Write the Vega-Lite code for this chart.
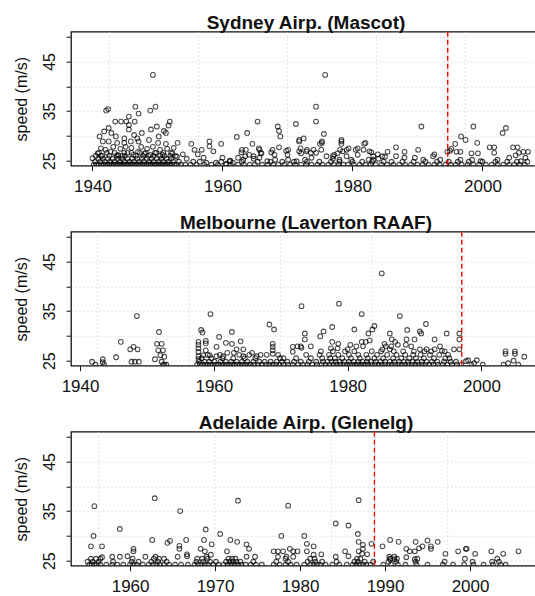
{
"$schema": "https://vega.github.io/schema/vega-lite/v6.json",
"background": "white",
"padding": {"left": 12, "top": 12.7, "right": 0, "bottom": 0},
"spacing": 17,
"config": {
  "font": "Liberation Sans",
  "view": {"stroke": "#111111", "strokeWidth": 1.3},
  "axis": {"labelColor": "#111111", "titleColor": "#111111", "tickColor": "#111111", "labelFont": "Liberation Sans", "titleFont": "Liberation Sans"},
  "title": {"fontSize": 19, "fontWeight": "bold", "color": "#111111", "anchor": "middle", "baseline": "alphabetic", "offset": -2}
},
"datasets": {
  "grid": [{"g":1942.62},{"g":1956.31},{"g":1970.0},{"g":1983.69},{"g":1997.38}],
  "chg": [{"p":"syd","x":1994.65},{"p":"mel","x":1997.05},{"p":"ade","x":1988.75}],
  "syd": [
{"x":1940.0,"y":25.5},{"x":1940.8,"y":26.5},{"x":1941.3,"y":27.5},{"x":1941.1,"y":29.9},{"x":1941.6,"y":28.9},{"x":1941.8,"y":30.9},{"x":1942.1,"y":35.1},{"x":1942.4,"y":35.4},{"x":1942.5,"y":31.6},{"x":1942.5,"y":28.9},{"x":1942.9,"y":30.6},{"x":1943.5,"y":32.9},{"x":1943.6,"y":29.9},{"x":1943.8,"y":28.6},{"x":1944.4,"y":32.9},{"x":1944.9,"y":29.5},{"x":1944.9,"y":28.6},{"x":1945.2,"y":32.9},{"x":1945.6,"y":32.2},{"x":1945.6,"y":31.3},{"x":1945.6,"y":33.9},{"x":1945.9,"y":28.9},{"x":1946.4,"y":30.2},{"x":1946.5,"y":32.9},{"x":1946.6,"y":35.9},{"x":1946.9,"y":29.5},{"x":1947.1,"y":34.5},{"x":1947.1,"y":28.9},{"x":1947.6,"y":30.6},{"x":1948.7,"y":29.2},{"x":1948.9,"y":35.1},{"x":1949.0,"y":31.3},{"x":1949.3,"y":42.3},{"x":1949.7,"y":35.9},{"x":1949.9,"y":31.9},{"x":1950.1,"y":28.6},{"x":1950.2,"y":29.9},{"x":1951.0,"y":31.0},{"x":1951.3,"y":30.6},{"x":1951.3,"y":28.4},{"x":1951.7,"y":32.1},{"x":1951.9,"y":32.9},{"x":1952.3,"y":26.5},{"x":1953.1,"y":28.6},{"x":1953.9,"y":26.3},
{"x":1941.3,"y":26.0},{"x":1942.0,"y":27.2},{"x":1942.8,"y":26.8},{"x":1943.2,"y":27.8},{"x":1943.9,"y":26.2},{"x":1944.3,"y":27.4},{"x":1944.6,"y":26.0},{"x":1945.1,"y":27.8},{"x":1945.4,"y":26.6},{"x":1946.0,"y":27.6},{"x":1946.3,"y":26.2},{"x":1947.0,"y":26.8},{"x":1947.5,"y":27.8},{"x":1948.0,"y":26.4},{"x":1948.4,"y":27.4},{"x":1948.9,"y":26.2},{"x":1949.3,"y":27.8},{"x":1949.8,"y":26.6},{"x":1950.4,"y":27.2},{"x":1950.8,"y":26.2},{"x":1951.5,"y":27.4},{"x":1952.0,"y":26.0},{"x":1952.5,"y":27.6},{"x":1953.0,"y":25.8},
{"x":1955.2,"y":28.4},{"x":1955.7,"y":27.2},{"x":1956.8,"y":27.2},{"x":1956.2,"y":26.3},{"x":1958.0,"y":28.9},{"x":1958.0,"y":27.9},{"x":1958.6,"y":26.9},{"x":1959.8,"y":28.4},{"x":1957.1,"y":25.6},{"x":1960.0,"y":25.6},{"x":1961.2,"y":25.0},{"x":1954.5,"y":25.4},{"x":1955.5,"y":24.8},{"x":1957.5,"y":24.6},{"x":1959.0,"y":24.6},{"x":1960.6,"y":24.4},{"x":1961.6,"y":24.6},
{"x":1962.2,"y":29.8},{"x":1963.8,"y":30.6},{"x":1965.4,"y":32.9},{"x":1964.6,"y":28.4},{"x":1963.0,"y":27.2},{"x":1963.5,"y":25.9},{"x":1964.8,"y":25.9},{"x":1965.6,"y":27.5},{"x":1965.9,"y":26.6},{"x":1967.7,"y":27.2},{"x":1968.5,"y":31.9},{"x":1968.7,"y":31.0},{"x":1968.9,"y":29.9},{"x":1968.7,"y":27.7},{"x":1970.1,"y":27.2},{"x":1971.3,"y":32.4},{"x":1971.8,"y":29.2},{"x":1971.8,"y":28.9},{"x":1972.5,"y":29.5},{"x":1972.0,"y":27.5},{"x":1973.0,"y":27.2},{"x":1974.4,"y":35.9},{"x":1974.4,"y":32.9},{"x":1975.6,"y":30.4},{"x":1975.3,"y":28.9},{"x":1975.0,"y":28.4},{"x":1975.3,"y":28.6},{"x":1974.0,"y":27.2},{"x":1975.8,"y":42.3},{"x":1976.0,"y":25.9},{"x":1977.0,"y":25.9},{"x":1978.3,"y":29.2},{"x":1978.3,"y":28.9},{"x":1978.3,"y":28.4},{"x":1978.1,"y":27.2},{"x":1979.4,"y":27.5},
{"x":1962.9,"y":26.7},{"x":1963.6,"y":27.2},{"x":1964.1,"y":26.2},{"x":1965.7,"y":27.2},{"x":1966.0,"y":26.5},{"x":1967.5,"y":26.7},{"x":1968.0,"y":26.2},{"x":1969.8,"y":27.0},{"x":1970.0,"y":26.2},{"x":1971.8,"y":26.9},{"x":1972.1,"y":26.5},{"x":1972.9,"y":26.9},{"x":1973.6,"y":26.6},{"x":1974.4,"y":26.6},{"x":1975.2,"y":27.2},{"x":1977.2,"y":26.2},{"x":1977.7,"y":26.5},{"x":1978.5,"y":26.9},{"x":1979.1,"y":27.2},{"x":1980.5,"y":27.2},{"x":1981.8,"y":28.4},{"x":1981.7,"y":27.2},{"x":1982.9,"y":26.7},{"x":1983.2,"y":25.9},{"x":1980.8,"y":26.2},{"x":1979.8,"y":25.2},
{"x":1961.1,"y":24.9},{"x":1962.4,"y":25.6},{"x":1963.2,"y":25.2},{"x":1964.8,"y":25.4},{"x":1965.7,"y":25.6},{"x":1966.9,"y":24.9},{"x":1968.1,"y":25.2},{"x":1970.1,"y":25.2},{"x":1971.4,"y":24.9},{"x":1972.7,"y":25.2},{"x":1973.7,"y":25.6},{"x":1977.0,"y":25.4},{"x":1978.0,"y":25.2},{"x":1979.1,"y":25.9},{"x":1982.5,"y":25.2},{"x":1983.2,"y":25.2},
{"x":1990.6,"y":31.9},{"x":1998.6,"y":31.9},{"x":2003.1,"y":30.6},{"x":2003.6,"y":31.6},{"x":1996.7,"y":29.9},{"x":1997.4,"y":29.2},{"x":1995.8,"y":28.4},{"x":1995.2,"y":27.4},{"x":1999.2,"y":28.6},{"x":1990.1,"y":27.2},{"x":1986.7,"y":27.7},{"x":1985.4,"y":26.8},{"x":1988.0,"y":26.8},{"x":1992.6,"y":26.3},{"x":1994.6,"y":26.8},{"x":1995.0,"y":27.0},{"x":1996.0,"y":26.8},{"x":1996.6,"y":26.8},{"x":1998.3,"y":26.5},{"x":1999.3,"y":26.5},{"x":2001.1,"y":27.7},{"x":2001.8,"y":27.7},{"x":2001.8,"y":26.6},{"x":2004.7,"y":27.7},{"x":2005.4,"y":27.7},{"x":2005.1,"y":26.1},{"x":2005.6,"y":26.6},{"x":2006.3,"y":26.8},{"x":2007.0,"y":26.8},{"x":2006.6,"y":25.6},
{"x":1984.6,"y":25.9},{"x":1986.7,"y":25.9},{"x":1988.0,"y":25.6},{"x":1989.6,"y":25.6},{"x":1990.9,"y":25.2},{"x":1992.4,"y":25.9},{"x":1993.5,"y":25.2},{"x":1996.6,"y":25.2},{"x":1998.4,"y":25.2},{"x":1999.7,"y":24.9},{"x":2002.3,"y":25.2},{"x":2004.1,"y":25.6},{"x":2005.9,"y":24.9},{"x":1982.0,"y":28.6},{"x":1982.6,"y":26.9},{"x":1983.9,"y":26.3},{"x":1980.8,"y":27.5},{"x":1984.0,"y":25.4},{"x":1985.0,"y":25.8},
{"x":1940.2,"y":24.2},{"x":1940.6,"y":24.2},{"x":1941.0,"y":24.2},{"x":1941.4,"y":24.2},{"x":1941.7,"y":24.2},{"x":1942.0,"y":24.2},{"x":1942.3,"y":24.2},{"x":1942.6,"y":24.2},{"x":1942.9,"y":24.2},{"x":1943.2,"y":24.2},{"x":1943.5,"y":24.2},{"x":1943.8,"y":24.2},{"x":1944.1,"y":24.2},{"x":1944.4,"y":24.2},{"x":1944.7,"y":24.2},{"x":1945.0,"y":24.2},{"x":1945.3,"y":24.2},{"x":1945.6,"y":24.2},{"x":1945.9,"y":24.2},{"x":1946.2,"y":24.2},{"x":1946.5,"y":24.2},{"x":1946.8,"y":24.2},{"x":1947.1,"y":24.2},{"x":1947.4,"y":24.2},{"x":1947.7,"y":24.2},{"x":1948.0,"y":24.2},{"x":1948.3,"y":24.2},{"x":1948.6,"y":24.2},{"x":1948.9,"y":24.2},{"x":1949.2,"y":24.2},{"x":1949.5,"y":24.2},{"x":1949.8,"y":24.2},{"x":1950.1,"y":24.2},{"x":1950.4,"y":24.2},{"x":1950.7,"y":24.2},{"x":1951.0,"y":24.2},{"x":1951.3,"y":24.2},{"x":1951.6,"y":24.2},{"x":1951.9,"y":24.2},{"x":1952.2,"y":24.2},{"x":1952.6,"y":24.2},{"x":1953.0,"y":24.2},{"x":1953.6,"y":24.2},{"x":1954.3,"y":24.2},{"x":1955.1,"y":24.2},{"x":1956.0,"y":24.2},{"x":1957.2,"y":24.2},{"x":1958.3,"y":24.2},{"x":1959.3,"y":24.2},{"x":1960.5,"y":24.2},{"x":1961.3,"y":24.2},{"x":1962.4,"y":24.2},{"x":1963.3,"y":24.2},{"x":1964.2,"y":24.2},{"x":1965.0,"y":24.2},{"x":1966.1,"y":24.2},{"x":1967.0,"y":24.2},{"x":1967.8,"y":24.2},{"x":1968.6,"y":24.2},{"x":1969.5,"y":24.2},{"x":1970.4,"y":24.2},{"x":1971.2,"y":24.2},{"x":1972.1,"y":24.2},{"x":1972.9,"y":24.2},{"x":1973.7,"y":24.2},{"x":1974.6,"y":24.2},{"x":1975.4,"y":24.2},{"x":1976.3,"y":24.2},{"x":1977.1,"y":24.2},{"x":1977.9,"y":24.2},{"x":1978.6,"y":24.2},{"x":1979.3,"y":24.2},{"x":1980.2,"y":24.2},{"x":1981.1,"y":24.2},{"x":1982.0,"y":24.2},{"x":1982.8,"y":24.2},{"x":1983.6,"y":24.2},{"x":1984.5,"y":24.2},{"x":1985.3,"y":24.2},{"x":1986.3,"y":24.2},{"x":1987.2,"y":24.2},{"x":1988.1,"y":24.2},{"x":1989.0,"y":24.2},{"x":1990.0,"y":24.2},{"x":1990.8,"y":24.2},{"x":1991.7,"y":24.2},{"x":1992.6,"y":24.2},{"x":1993.4,"y":24.2},{"x":1994.3,"y":24.2},{"x":1995.1,"y":24.2},{"x":1995.9,"y":24.2},{"x":1996.8,"y":24.2},{"x":1997.7,"y":24.2},{"x":1998.6,"y":24.2},{"x":1999.5,"y":24.2},{"x":2000.5,"y":24.2},{"x":2001.4,"y":24.2},{"x":2002.3,"y":24.2},{"x":2003.2,"y":24.2},{"x":2004.1,"y":24.2},{"x":2004.9,"y":24.2},{"x":2005.7,"y":24.2},{"x":2006.5,"y":24.2},
{"x":1940.4,"y":24.8},{"x":1941.2,"y":24.8},{"x":1941.9,"y":24.8},{"x":1942.7,"y":24.8},{"x":1943.4,"y":24.8},{"x":1944.2,"y":24.8},{"x":1944.9,"y":24.8},{"x":1945.7,"y":24.8},{"x":1946.4,"y":24.8},{"x":1947.2,"y":24.8},{"x":1947.9,"y":24.8},{"x":1948.7,"y":24.8},{"x":1949.4,"y":24.8},{"x":1950.2,"y":24.8},{"x":1950.9,"y":24.8},{"x":1951.7,"y":24.8},{"x":1952.4,"y":24.8},{"x":1953.3,"y":24.8},{"x":1956.5,"y":24.8},{"x":1959.8,"y":24.8},{"x":1963.0,"y":24.8},{"x":1965.4,"y":24.8},{"x":1967.4,"y":24.8},{"x":1969.2,"y":24.8},{"x":1971.0,"y":24.8},{"x":1973.0,"y":24.8},{"x":1974.9,"y":24.8},{"x":1976.7,"y":24.8},{"x":1978.0,"y":24.8},{"x":1980.0,"y":24.8},{"x":1981.5,"y":24.8},{"x":1983.0,"y":24.8},{"x":1984.8,"y":24.8},{"x":1986.0,"y":24.8},{"x":1987.7,"y":24.8},{"x":1989.4,"y":24.8},{"x":1991.2,"y":24.8},{"x":1993.0,"y":24.8},{"x":1994.8,"y":24.8},{"x":1996.2,"y":24.8},{"x":1997.9,"y":24.8},{"x":2000.0,"y":24.8},{"x":2002.0,"y":24.8},{"x":2003.8,"y":24.8},{"x":2005.3,"y":24.8},{"x":2006.9,"y":24.8},
{"x":1940.9,"y":25.4},{"x":1941.6,"y":25.4},{"x":1942.4,"y":25.4},{"x":1943.1,"y":25.4},{"x":1943.9,"y":25.4},{"x":1944.6,"y":25.4},{"x":1945.4,"y":25.4},{"x":1946.1,"y":25.4},{"x":1946.9,"y":25.4},{"x":1947.6,"y":25.4},{"x":1948.4,"y":25.4},{"x":1949.1,"y":25.4},{"x":1949.9,"y":25.4},{"x":1950.6,"y":25.4},{"x":1951.4,"y":25.4},{"x":1952.1,"y":25.4},
{"x":1940.5,"y":26.0},{"x":1941.5,"y":26.0},{"x":1942.6,"y":26.0},{"x":1943.7,"y":26.0},{"x":1944.0,"y":26.0},{"x":1945.0,"y":26.0},{"x":1946.7,"y":26.0},{"x":1947.8,"y":26.0},{"x":1948.6,"y":26.0},{"x":1949.4,"y":26.0},{"x":1950.4,"y":26.0},{"x":1951.1,"y":26.0},{"x":1952.8,"y":26.0},
{"x":1941.0,"y":26.6},{"x":1942.2,"y":26.6},{"x":1943.4,"y":26.6},{"x":1944.9,"y":26.6},{"x":1946.0,"y":26.6},{"x":1947.3,"y":26.6},{"x":1948.2,"y":26.6},{"x":1949.6,"y":26.6},{"x":1950.9,"y":26.6},{"x":1952.1,"y":26.6}
  ],
  "mel": [
{"x":1941.8,"y":24.8},{"x":1943.4,"y":25.3},{"x":1943.4,"y":24.7},{"x":1945.4,"y":25.7},{"x":1946.1,"y":28.8},{"x":1947.5,"y":27.3},{"x":1948.0,"y":27.8},{"x":1948.6,"y":27.3},{"x":1948.5,"y":34.0},{"x":1947.7,"y":24.8},{"x":1948.2,"y":24.8},{"x":1948.8,"y":24.8},{"x":1951.8,"y":30.8},{"x":1951.5,"y":28.4},{"x":1952.2,"y":28.4},{"x":1951.7,"y":27.1},{"x":1952.4,"y":27.1},{"x":1952.0,"y":26.1},{"x":1952.6,"y":25.8},{"x":1951.2,"y":25.3},{"x":1952.2,"y":24.8},{"x":1952.6,"y":24.2},
{"x":1958.1,"y":31.2},{"x":1958.3,"y":30.7},{"x":1959.5,"y":34.4},{"x":1960.8,"y":29.8},{"x":1962.7,"y":30.8},{"x":1957.7,"y":28.8},{"x":1957.7,"y":28.2},{"x":1957.7,"y":27.5},{"x":1957.7,"y":26.8},{"x":1957.7,"y":25.9},{"x":1957.7,"y":25.3},{"x":1958.8,"y":29.0},{"x":1958.8,"y":28.5},{"x":1958.8,"y":27.1},{"x":1958.4,"y":26.1},{"x":1959.4,"y":26.1},{"x":1960.4,"y":27.8},{"x":1961.8,"y":28.6},{"x":1962.7,"y":28.4},{"x":1962.0,"y":26.6},{"x":1963.0,"y":26.6},{"x":1964.0,"y":28.9},{"x":1963.4,"y":27.3},{"x":1964.4,"y":27.3},{"x":1965.7,"y":26.6},{"x":1964.4,"y":25.9},{"x":1966.4,"y":25.9},{"x":1960.4,"y":25.9},{"x":1961.4,"y":25.9},{"x":1968.3,"y":32.3},{"x":1969.0,"y":31.3},{"x":1968.8,"y":28.4},{"x":1968.8,"y":27.8},{"x":1968.8,"y":27.1},{"x":1968.8,"y":26.4},{"x":1967.9,"y":26.2},{"x":1970.4,"y":25.5},{"x":1971.8,"y":27.8},{"x":1972.5,"y":27.9},{"x":1971.8,"y":26.8},
{"x":1973.1,"y":36.0},{"x":1985.1,"y":42.6},{"x":1978.7,"y":36.5},{"x":1982.1,"y":34.4},{"x":1987.8,"y":34.0},{"x":1981.0,"y":31.3},{"x":1984.0,"y":32.0},{"x":1983.7,"y":31.3},{"x":1977.7,"y":31.8},{"x":1976.4,"y":30.9},{"x":1975.9,"y":29.9},{"x":1973.6,"y":30.5},{"x":1973.6,"y":29.3},{"x":1991.7,"y":32.4},{"x":1990.8,"y":30.9},{"x":1991.0,"y":30.5},{"x":1988.9,"y":31.2},{"x":1986.3,"y":30.5},{"x":1994.8,"y":30.5},{"x":1996.7,"y":30.5},{"x":1996.7,"y":29.3},{"x":1995.9,"y":27.3},{"x":1996.7,"y":27.3},{"x":1993.0,"y":29.3},{"x":1993.8,"y":27.9},{"x":1974.5,"y":27.9},{"x":1973.0,"y":27.9},{"x":1973.1,"y":27.6},{"x":1983.1,"y":30.5},{"x":1983.3,"y":29.1},{"x":1982.7,"y":28.8},{"x":1986.6,"y":29.3},{"x":1987.1,"y":28.8},{"x":1986.5,"y":27.9},{"x":1987.5,"y":28.2},{"x":1988.8,"y":29.3},{"x":1988.7,"y":28.2},{"x":1989.5,"y":27.9},{"x":1990.0,"y":29.3},{"x":1981.3,"y":27.9},{"x":1982.3,"y":27.9},{"x":1982.1,"y":28.8},
{"x":1980.4,"y":28.2},{"x":1978.6,"y":28.4},{"x":1977.7,"y":28.8},{"x":1977.5,"y":27.5},{"x":1978.5,"y":27.5},{"x":1980.0,"y":27.3},{"x":1985.5,"y":28.4},{"x":1985.7,"y":27.9},{"x":1986.3,"y":27.3},{"x":1985.2,"y":27.3},{"x":1990.8,"y":27.3},{"x":1991.8,"y":27.3},{"x":1993.0,"y":27.3},{"x":1994.1,"y":27.0},
{"x":1998.0,"y":25.1},{"x":1999.3,"y":25.1},{"x":1997.7,"y":24.9},{"x":1998.9,"y":24.5},{"x":2003.6,"y":26.9},{"x":2003.6,"y":26.4},{"x":2005.0,"y":26.9},{"x":2005.0,"y":26.4},{"x":2006.4,"y":25.8},{"x":2004.8,"y":25.0},{"x":2004.0,"y":24.5},
{"x":1942.3,"y":24.2},{"x":1943.6,"y":24.2},{"x":1952.4,"y":24.2},{"x":1952.9,"y":24.2},{"x":1957.5,"y":24.2},{"x":1957.9,"y":24.2},{"x":1958.3,"y":24.2},{"x":1958.7,"y":24.2},{"x":1959.1,"y":24.2},{"x":1959.5,"y":24.2},{"x":1959.9,"y":24.2},{"x":1960.3,"y":24.2},{"x":1960.7,"y":24.2},{"x":1961.1,"y":24.2},{"x":1961.5,"y":24.2},{"x":1961.9,"y":24.2},{"x":1962.3,"y":24.2},{"x":1962.7,"y":24.2},{"x":1963.1,"y":24.2},{"x":1963.5,"y":24.2},{"x":1963.9,"y":24.2},{"x":1964.3,"y":24.2},{"x":1964.7,"y":24.2},{"x":1965.1,"y":24.2},{"x":1965.5,"y":24.2},{"x":1966.0,"y":24.2},{"x":1966.6,"y":24.2},{"x":1967.2,"y":24.2},{"x":1967.8,"y":24.2},{"x":1968.3,"y":24.2},{"x":1968.8,"y":24.2},{"x":1969.3,"y":24.2},{"x":1969.8,"y":24.2},{"x":1970.4,"y":24.2},{"x":1971.1,"y":24.2},{"x":1971.8,"y":24.2},{"x":1972.6,"y":24.2},{"x":1973.3,"y":24.2},{"x":1974.0,"y":24.2},{"x":1974.7,"y":24.2},{"x":1975.4,"y":24.2},{"x":1976.1,"y":24.2},{"x":1976.7,"y":24.2},{"x":1977.3,"y":24.2},{"x":1977.9,"y":24.2},{"x":1978.4,"y":24.2},{"x":1978.9,"y":24.2},{"x":1979.4,"y":24.2},{"x":1979.9,"y":24.2},{"x":1980.3,"y":24.2},{"x":1980.7,"y":24.2},{"x":1981.1,"y":24.2},{"x":1981.5,"y":24.2},{"x":1981.9,"y":24.2},{"x":1982.3,"y":24.2},{"x":1982.7,"y":24.2},{"x":1983.1,"y":24.2},{"x":1983.6,"y":24.2},{"x":1984.1,"y":24.2},{"x":1984.6,"y":24.2},{"x":1985.1,"y":24.2},{"x":1985.6,"y":24.2},{"x":1986.1,"y":24.2},{"x":1986.6,"y":24.2},{"x":1987.1,"y":24.2},{"x":1987.6,"y":24.2},{"x":1988.1,"y":24.2},{"x":1988.6,"y":24.2},{"x":1989.1,"y":24.2},{"x":1989.6,"y":24.2},{"x":1990.1,"y":24.2},{"x":1990.6,"y":24.2},{"x":1991.1,"y":24.2},{"x":1991.6,"y":24.2},{"x":1992.2,"y":24.2},{"x":1992.8,"y":24.2},{"x":1993.5,"y":24.2},{"x":1994.2,"y":24.2},{"x":1994.9,"y":24.2},{"x":1995.6,"y":24.2},{"x":1996.3,"y":24.2},{"x":1997.0,"y":24.2},{"x":1998.5,"y":24.2},{"x":2000.2,"y":24.2},{"x":2003.3,"y":24.2},{"x":2005.5,"y":24.2},
{"x":1957.8,"y":24.8},{"x":1958.6,"y":24.8},{"x":1959.3,"y":24.8},{"x":1960.1,"y":24.8},{"x":1961.0,"y":24.8},{"x":1961.8,"y":24.8},{"x":1962.6,"y":24.8},{"x":1963.4,"y":24.8},{"x":1964.2,"y":24.8},{"x":1965.0,"y":24.8},{"x":1965.9,"y":24.8},{"x":1966.8,"y":24.8},{"x":1967.6,"y":24.8},{"x":1968.5,"y":24.8},{"x":1969.4,"y":24.8},{"x":1970.2,"y":24.8},{"x":1971.0,"y":24.8},{"x":1972.0,"y":24.8},{"x":1973.0,"y":24.8},{"x":1974.2,"y":24.8},{"x":1975.3,"y":24.8},{"x":1976.3,"y":24.8},{"x":1977.0,"y":24.8},{"x":1977.6,"y":24.8},{"x":1978.2,"y":24.8},{"x":1978.8,"y":24.8},{"x":1979.5,"y":24.8},{"x":1980.2,"y":24.8},{"x":1980.9,"y":24.8},{"x":1981.6,"y":24.8},{"x":1982.2,"y":24.8},{"x":1982.9,"y":24.8},{"x":1983.5,"y":24.8},{"x":1984.2,"y":24.8},{"x":1984.9,"y":24.8},{"x":1985.6,"y":24.8},{"x":1986.3,"y":24.8},{"x":1987.0,"y":24.8},{"x":1987.7,"y":24.8},{"x":1988.4,"y":24.8},{"x":1989.0,"y":24.8},{"x":1989.7,"y":24.8},{"x":1990.4,"y":24.8},{"x":1991.1,"y":24.8},{"x":1991.8,"y":24.8},{"x":1992.6,"y":24.8},{"x":1993.4,"y":24.8},{"x":1994.4,"y":24.8},{"x":1995.4,"y":24.8},{"x":1996.2,"y":24.8},
{"x":1958.2,"y":25.5},{"x":1959.6,"y":25.5},{"x":1961.3,"y":25.5},{"x":1962.9,"y":25.5},{"x":1964.6,"y":25.5},{"x":1966.2,"y":25.5},{"x":1969.9,"y":25.5},{"x":1972.3,"y":25.5},{"x":1974.5,"y":25.5},{"x":1976.2,"y":25.5},{"x":1977.4,"y":25.5},{"x":1978.1,"y":25.5},{"x":1979.2,"y":25.5},{"x":1980.5,"y":25.5},{"x":1981.8,"y":25.5},{"x":1983.0,"y":25.5},{"x":1984.0,"y":25.5},{"x":1985.3,"y":25.5},{"x":1986.8,"y":25.5},{"x":1988.0,"y":25.5},{"x":1989.2,"y":25.5},{"x":1990.2,"y":25.5},{"x":1991.4,"y":25.5},{"x":1992.9,"y":25.5},{"x":1994.6,"y":25.5},{"x":1995.2,"y":25.5},
{"x":1959.1,"y":26.2},{"x":1960.9,"y":26.2},{"x":1963.8,"y":26.2},{"x":1965.3,"y":26.2},{"x":1967.0,"y":26.2},{"x":1969.6,"y":26.2},{"x":1973.8,"y":26.2},{"x":1975.8,"y":26.2},{"x":1977.2,"y":26.2},{"x":1978.6,"y":26.2},{"x":1980.2,"y":26.2},{"x":1981.6,"y":26.2},{"x":1982.8,"y":26.2},{"x":1984.4,"y":26.2},{"x":1985.9,"y":26.2},{"x":1987.3,"y":26.2},{"x":1988.6,"y":26.2},{"x":1989.8,"y":26.2},{"x":1990.9,"y":26.2},{"x":1992.3,"y":26.2},{"x":1993.7,"y":26.2},{"x":1995.0,"y":26.2},
{"x":1976.0,"y":26.9},{"x":1977.8,"y":26.9},{"x":1979.6,"y":26.9},{"x":1981.0,"y":26.9},{"x":1983.6,"y":26.9},{"x":1985.0,"y":26.9},{"x":1986.9,"y":26.9},{"x":1988.3,"y":26.9},{"x":1989.9,"y":26.9},{"x":1991.5,"y":26.9},{"x":1992.5,"y":26.9},{"x":1994.5,"y":26.9}
  ],
  "ade": [
{"x":1955.8,"y":36.0},{"x":1955.7,"y":30.0},{"x":1955.4,"y":27.9},{"x":1956.7,"y":27.9},{"x":1962.9,"y":37.6},{"x":1958.8,"y":31.4},{"x":1965.9,"y":35.0},{"x":1972.7,"y":37.1},{"x":1978.6,"y":36.1},{"x":1977.8,"y":30.0},{"x":1968.9,"y":31.3},{"x":1968.7,"y":29.2},{"x":1968.3,"y":27.4},{"x":1968.8,"y":26.9},{"x":1970.6,"y":30.4},{"x":1969.6,"y":28.3},{"x":1971.8,"y":29.2},{"x":1972.6,"y":28.8},{"x":1971.4,"y":26.9},{"x":1973.7,"y":28.3},{"x":1974.0,"y":27.4},{"x":1974.7,"y":25.8},{"x":1973.7,"y":25.8},{"x":1962.6,"y":29.2},{"x":1960.4,"y":27.4},{"x":1960.4,"y":26.9},{"x":1959.7,"y":25.9},{"x":1958.8,"y":25.8},{"x":1957.9,"y":25.8},{"x":1956.7,"y":25.7},{"x":1964.4,"y":28.6},{"x":1964.7,"y":29.0},{"x":1965.8,"y":28.0},{"x":1965.8,"y":27.4},{"x":1966.6,"y":29.2},{"x":1966.7,"y":26.3},{"x":1966.7,"y":25.9},{"x":1965.6,"y":25.8},{"x":1961.8,"y":25.8},{"x":1963.0,"y":25.8},{"x":1976.9,"y":26.9},{"x":1977.4,"y":26.9},{"x":1978.0,"y":26.9},{"x":1978.8,"y":27.4},{"x":1979.7,"y":26.9},{"x":1977.4,"y":25.8},{"x":1978.4,"y":25.8},{"x":1969.0,"y":25.8},{"x":1969.5,"y":26.2},
{"x":1986.9,"y":37.2},{"x":1984.2,"y":32.5},{"x":1985.7,"y":32.1},{"x":1980.5,"y":30.0},{"x":1986.8,"y":30.4},{"x":1986.9,"y":28.8},{"x":1987.4,"y":28.2},{"x":1987.4,"y":27.4},{"x":1988.4,"y":28.4},{"x":1986.9,"y":26.9},{"x":1987.3,"y":26.4},{"x":1987.9,"y":26.3},{"x":1980.8,"y":28.4},{"x":1981.6,"y":27.9},{"x":1980.8,"y":26.9},{"x":1981.6,"y":26.2},{"x":1982.5,"y":26.3},{"x":1979.2,"y":26.9},{"x":1979.2,"y":25.8},{"x":1985.3,"y":26.9},{"x":1985.7,"y":25.9},{"x":1984.2,"y":25.8},{"x":1989.7,"y":27.9},{"x":1990.6,"y":29.2},{"x":1991.6,"y":28.8},{"x":1992.5,"y":27.4},{"x":1992.9,"y":26.9},{"x":1993.5,"y":26.9},{"x":1993.6,"y":28.8},{"x":1994.0,"y":27.5},{"x":1994.4,"y":27.9},{"x":1995.0,"y":29.1},{"x":1995.4,"y":27.9},{"x":1995.4,"y":27.4},{"x":1996.2,"y":28.8},{"x":1997.1,"y":26.4},{"x":1998.6,"y":26.9},{"x":1999.6,"y":27.4},{"x":1999.5,"y":27.4},{"x":2000.6,"y":26.4},{"x":2002.5,"y":26.9},{"x":2003.9,"y":26.4},{"x":2005.7,"y":26.9},{"x":1990.5,"y":25.8},{"x":1991.1,"y":25.8},{"x":1990.6,"y":25.3},{"x":1991.1,"y":25.3},{"x":1992.5,"y":25.7},{"x":1993.5,"y":25.3},
{"x":1955.2,"y":24.2},{"x":1955.5,"y":24.2},{"x":1955.8,"y":24.2},{"x":1956.1,"y":24.2},{"x":1956.5,"y":24.2},{"x":1957.2,"y":24.2},{"x":1957.9,"y":24.2},{"x":1958.5,"y":24.2},{"x":1959.2,"y":24.2},{"x":1960.0,"y":24.2},{"x":1960.4,"y":24.2},{"x":1960.8,"y":24.2},{"x":1961.5,"y":24.2},{"x":1962.2,"y":24.2},{"x":1962.7,"y":24.2},{"x":1963.1,"y":24.2},{"x":1963.5,"y":24.2},{"x":1964.0,"y":24.2},{"x":1964.6,"y":24.2},{"x":1965.3,"y":24.2},{"x":1966.0,"y":24.2},{"x":1966.8,"y":24.2},{"x":1967.6,"y":24.2},{"x":1968.0,"y":24.2},{"x":1968.4,"y":24.2},{"x":1968.8,"y":24.2},{"x":1969.2,"y":24.2},{"x":1969.8,"y":24.2},{"x":1970.4,"y":24.2},{"x":1971.0,"y":24.2},{"x":1971.5,"y":24.2},{"x":1971.9,"y":24.2},{"x":1972.3,"y":24.2},{"x":1972.7,"y":24.2},{"x":1973.1,"y":24.2},{"x":1973.6,"y":24.2},{"x":1974.2,"y":24.2},{"x":1974.8,"y":24.2},{"x":1975.5,"y":24.2},{"x":1976.9,"y":24.2},{"x":1977.6,"y":24.2},{"x":1978.3,"y":24.2},{"x":1978.9,"y":24.2},{"x":1979.6,"y":24.2},{"x":1980.5,"y":24.2},{"x":1981.2,"y":24.2},{"x":1981.6,"y":24.2},{"x":1982.0,"y":24.2},{"x":1982.4,"y":24.2},{"x":1983.0,"y":24.2},{"x":1983.8,"y":24.2},{"x":1984.6,"y":24.2},{"x":1985.5,"y":24.2},{"x":1986.2,"y":24.2},{"x":1986.6,"y":24.2},{"x":1987.0,"y":24.2},{"x":1987.4,"y":24.2},{"x":1987.8,"y":24.2},{"x":1988.3,"y":24.2},{"x":1989.8,"y":24.2},{"x":1990.7,"y":24.2},{"x":1991.5,"y":24.2},{"x":1992.4,"y":24.2},{"x":1993.7,"y":24.2},{"x":1995.0,"y":24.2},{"x":1996.8,"y":24.2},{"x":1998.0,"y":24.2},{"x":1999.3,"y":24.2},{"x":2000.4,"y":24.2},{"x":2001.6,"y":24.2},{"x":2002.7,"y":24.2},{"x":2003.6,"y":24.2},{"x":2004.2,"y":24.2},
{"x":1955.0,"y":24.8},{"x":1955.6,"y":24.8},{"x":1956.3,"y":24.8},{"x":1958.0,"y":24.8},{"x":1960.2,"y":24.8},{"x":1961.0,"y":24.8},{"x":1962.5,"y":24.8},{"x":1963.3,"y":24.8},{"x":1964.3,"y":24.8},{"x":1967.8,"y":24.8},{"x":1968.6,"y":24.8},{"x":1969.4,"y":24.8},{"x":1970.1,"y":24.8},{"x":1971.3,"y":24.8},{"x":1971.7,"y":24.8},{"x":1972.1,"y":24.8},{"x":1972.5,"y":24.8},{"x":1973.0,"y":24.8},{"x":1974.5,"y":24.8},{"x":1977.2,"y":24.8},{"x":1978.6,"y":24.8},{"x":1980.9,"y":24.8},{"x":1981.8,"y":24.8},{"x":1982.6,"y":24.8},{"x":1984.3,"y":24.8},{"x":1986.4,"y":24.8},{"x":1986.8,"y":24.8},{"x":1987.6,"y":24.8},{"x":1988.6,"y":24.8},{"x":1990.4,"y":24.8},{"x":1991.3,"y":24.8},{"x":1993.6,"y":24.8},{"x":1997.0,"y":24.8},{"x":2000.3,"y":24.8},{"x":2002.6,"y":24.8},{"x":2003.4,"y":24.8},
{"x":1955.4,"y":25.4},{"x":1956.0,"y":25.4},{"x":1956.5,"y":25.4},{"x":1960.3,"y":25.4},{"x":1962.8,"y":25.4},{"x":1963.4,"y":25.4},{"x":1964.0,"y":25.4},{"x":1967.9,"y":25.4},{"x":1968.5,"y":25.4},{"x":1969.1,"y":25.4},{"x":1971.6,"y":25.4},{"x":1972.0,"y":25.4},{"x":1972.4,"y":25.4},{"x":1978.3,"y":25.4},{"x":1981.2,"y":25.4},{"x":1981.7,"y":25.4},{"x":1986.7,"y":25.4},{"x":1987.1,"y":25.4},{"x":1990.6,"y":25.4},{"x":1991.4,"y":25.4},{"x":1993.8,"y":25.4},{"x":1999.4,"y":25.4},{"x":2003.2,"y":25.4}
  ]
},
"vconcat": [
 {
  "width": 470, "height": 134,
  "title": {"text": "Sydney Airp. (Mascot)"},
  "layer": [
   {"data": {"name": "grid"}, "mark": {"type": "rule", "color": "#c8c8c8", "strokeDash": [1, 3], "strokeWidth": 1, "clip": true},
    "encoding": {"x": {"field": "g", "type": "quantitative", "scale": {"domain": [1936.7, 2009.0], "nice": false, "zero": false},
      "axis": {"title": null, "values": [1940, 1960, 1980, 2000], "format": "d", "grid": false, "domain": false, "tickSize": 5, "labelFontSize": 17, "labelPadding": 8}}}},
   {"data": {"name": "syd"}, "mark": {"type": "point", "shape": "circle", "filled": false, "color": "black", "size": 22, "strokeWidth": 1.1, "clip": true},
    "encoding": {"x": {"field": "x", "type": "quantitative"},
     "y": {"field": "y", "type": "quantitative", "scale": {"domain": [24, 51], "nice": false, "zero": false},
      "axis": {"title": "speed (m/s)", "titleFontSize": 16, "titleFontWeight": "normal", "titlePadding": 12, "values": [25, 30, 35, 40, 45, 50], "labelExpr": "datum.value % 10 == 5 ? datum.label : ''", "labelAngle": 270, "labelAlign": "center", "labelBaseline": "bottom", "labelFontSize": 16, "labelPadding": 9, "tickSize": 5, "domain": false, "grid": true, "gridColor": "#c8c8c8", "gridDash": [1, 3], "gridWidth": 1}}}},
   {"data": {"name": "chg"}, "transform": [{"filter": "datum.p == 'syd'"}], "mark": {"type": "rule", "color": "#ff0000", "strokeDash": [5, 3], "strokeWidth": 1.4},
    "encoding": {"x": {"field": "x", "type": "quantitative"}}}
  ]
 },
 {
  "width": 470, "height": 134,
  "title": {"text": "Melbourne (Laverton RAAF)"},
  "layer": [
   {"data": {"name": "grid"}, "mark": {"type": "rule", "color": "#c8c8c8", "strokeDash": [1, 3], "strokeWidth": 1, "clip": true},
    "encoding": {"x": {"field": "g", "type": "quantitative", "scale": {"domain": [1938.65, 2008.9], "nice": false, "zero": false},
      "axis": {"title": null, "values": [1940, 1960, 1980, 2000], "format": "d", "grid": false, "domain": false, "tickSize": 5, "labelFontSize": 17, "labelPadding": 8}}}},
   {"data": {"name": "mel"}, "mark": {"type": "point", "shape": "circle", "filled": false, "color": "black", "size": 22, "strokeWidth": 1.1, "clip": true},
    "encoding": {"x": {"field": "x", "type": "quantitative"},
     "y": {"field": "y", "type": "quantitative", "scale": {"domain": [24, 51], "nice": false, "zero": false},
      "axis": {"title": "speed (m/s)", "titleFontSize": 16, "titleFontWeight": "normal", "titlePadding": 12, "values": [25, 30, 35, 40, 45, 50], "labelExpr": "datum.value % 10 == 5 ? datum.label : ''", "labelAngle": 270, "labelAlign": "center", "labelBaseline": "bottom", "labelFontSize": 16, "labelPadding": 9, "tickSize": 5, "domain": false, "grid": true, "gridColor": "#c8c8c8", "gridDash": [1, 3], "gridWidth": 1}}}},
   {"data": {"name": "chg"}, "transform": [{"filter": "datum.p == 'mel'"}], "mark": {"type": "rule", "color": "#ff0000", "strokeDash": [5, 3], "strokeWidth": 1.4},
    "encoding": {"x": {"field": "x", "type": "quantitative"}}}
  ]
 },
 {
  "width": 470, "height": 134,
  "title": {"text": "Adelaide Airp. (Glenelg)"},
  "layer": [
   {"data": {"name": "grid"}, "mark": {"type": "rule", "color": "#c8c8c8", "strokeDash": [1, 3], "strokeWidth": 1, "clip": true},
    "encoding": {"x": {"field": "g", "type": "quantitative", "scale": {"domain": [1953.05, 2008.35], "nice": false, "zero": false},
      "axis": {"title": null, "values": [1960, 1970, 1980, 1990, 2000], "format": "d", "grid": false, "domain": false, "tickSize": 5, "labelFontSize": 17, "labelPadding": 8}}}},
   {"data": {"name": "ade"}, "mark": {"type": "point", "shape": "circle", "filled": false, "color": "black", "size": 22, "strokeWidth": 1.1, "clip": true},
    "encoding": {"x": {"field": "x", "type": "quantitative"},
     "y": {"field": "y", "type": "quantitative", "scale": {"domain": [24, 51], "nice": false, "zero": false},
      "axis": {"title": "speed (m/s)", "titleFontSize": 16, "titleFontWeight": "normal", "titlePadding": 12, "values": [25, 30, 35, 40, 45, 50], "labelExpr": "datum.value % 10 == 5 ? datum.label : ''", "labelAngle": 270, "labelAlign": "center", "labelBaseline": "bottom", "labelFontSize": 16, "labelPadding": 9, "tickSize": 5, "domain": false, "grid": true, "gridColor": "#c8c8c8", "gridDash": [1, 3], "gridWidth": 1}}}},
   {"data": {"name": "chg"}, "transform": [{"filter": "datum.p == 'ade'"}], "mark": {"type": "rule", "color": "#ff0000", "strokeDash": [5, 3], "strokeWidth": 1.4},
    "encoding": {"x": {"field": "x", "type": "quantitative"}}}
  ]
 }
]
}
